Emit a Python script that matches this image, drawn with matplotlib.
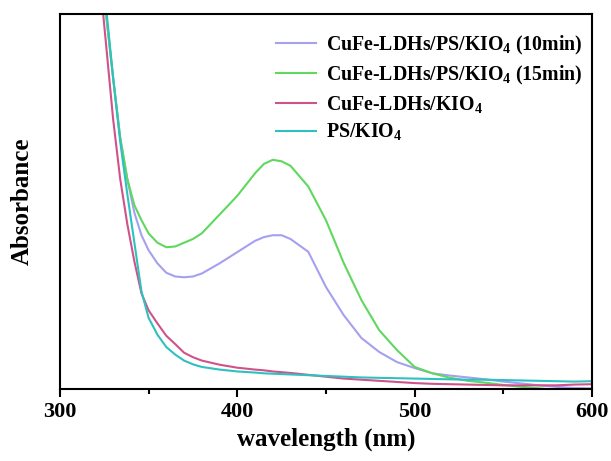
import numpy as np
import matplotlib
matplotlib.use('Agg')
from matplotlib import pyplot as plt
from matplotlib.ticker import MultipleLocator

plt.rcParams['font.family'] = 'Liberation Serif'
plt.rcParams['font.weight'] = 'bold'
plt.rcParams['mathtext.fontset'] = 'custom'
plt.rcParams['mathtext.rm'] = 'Liberation Serif:bold'
plt.rcParams['mathtext.bf'] = 'Liberation Serif:bold'
plt.rcParams['mathtext.default'] = 'bf'

wavelength = [318, 322, 326, 330, 334, 338, 342, 346, 350, 355, 360, 365, 370, 375, 380,
              390, 400, 410, 415, 420, 425, 430, 440, 450, 460, 470, 480, 490, 500, 510,
              520, 530, 540, 550, 560, 570, 580, 590, 600]

ldh_ps_10 = [1.35, 1.17, 1.00, 0.83, 0.67, 0.56, 0.47, 0.41, 0.37, 0.335, 0.31, 0.30, 0.298,
             0.30, 0.308, 0.335, 0.365, 0.395, 0.405, 0.41, 0.41, 0.40, 0.366, 0.272, 0.197,
             0.136, 0.099, 0.072, 0.056, 0.042, 0.036, 0.031, 0.026, 0.02, 0.015, 0.01, 0.006,
             0.003, 0.002]
ldh_ps_15 = [1.35, 1.17, 1.00, 0.83, 0.67, 0.56, 0.49, 0.45, 0.415, 0.39, 0.378, 0.38, 0.39,
             0.40, 0.415, 0.465, 0.515, 0.575, 0.60, 0.611, 0.607, 0.595, 0.54, 0.45, 0.336,
             0.237, 0.157, 0.104, 0.059, 0.042, 0.030, 0.022, 0.017, 0.011, 0.006, 0.002,
             -0.002, -0.004, -0.004]
ldh_kio4 = [1.30, 1.12, 0.92, 0.72, 0.56, 0.44, 0.34, 0.255, 0.21, 0.175, 0.142, 0.12, 0.097,
            0.085, 0.076, 0.065, 0.057, 0.052, 0.05, 0.047, 0.045, 0.043, 0.038, 0.033, 0.028,
            0.025, 0.022, 0.019, 0.016, 0.014, 0.013, 0.012, 0.011, 0.01, 0.01, 0.01, 0.01,
            0.012, 0.013]
ps_kio4 = [1.36, 1.18, 1.02, 0.83, 0.66, 0.52, 0.39, 0.26, 0.19, 0.145, 0.112, 0.092, 0.076,
           0.066, 0.059, 0.052, 0.047, 0.044, 0.042, 0.041, 0.040, 0.039, 0.037, 0.035, 0.033,
           0.031, 0.030, 0.029, 0.028, 0.027, 0.026, 0.025, 0.025, 0.024, 0.023, 0.022, 0.021,
           0.020, 0.021]

labels = [r'CuFe-LDHs/PS/KIO$_4$ (10min)', r'CuFe-LDHs/PS/KIO$_4$ (15min)',
          r'CuFe-LDHs/KIO$_4$', r'PS/KIO$_4$']
colors = ['#a5a0f0', '#5fd85f', '#d0528a', '#2fc0c0']

fig = plt.figure(figsize=(6.11, 4.61), dpi=100)
ax = fig.add_axes([0.098, 0.156, 0.871, 0.814])

for ys, lab, c in zip([ldh_ps_10, ldh_ps_15, ldh_kio4, ps_kio4], labels, colors):
    ax.plot(wavelength, ys, color=c, lw=1.5, label=lab)

ax.set_xlim(300, 600)
ax.set_ylim(0, 1)
ax.set_yticks([])
ax.xaxis.set_major_locator(MultipleLocator(100))
ax.xaxis.set_minor_locator(MultipleLocator(50))
ax.tick_params(axis='x', which='major', direction='out', length=6, width=1.5, labelsize=16)
ax.tick_params(axis='x', which='minor', direction='out', length=3.5, width=1.5)
for s in ax.spines.values():
    s.set_linewidth(1.5)

ax.set_xlabel('wavelength (nm)', fontsize=18, fontweight='bold', labelpad=4)
ax.set_ylabel('Absorbance', fontsize=18, fontweight='bold', labelpad=19)

ax.legend(loc='upper right', bbox_to_anchor=(1.016, 0.995), frameon=False, fontsize=14.3,
          handlelength=2.0, handletextpad=0.5, labelspacing=0.35)

plt.savefig('out.png', dpi=100)
